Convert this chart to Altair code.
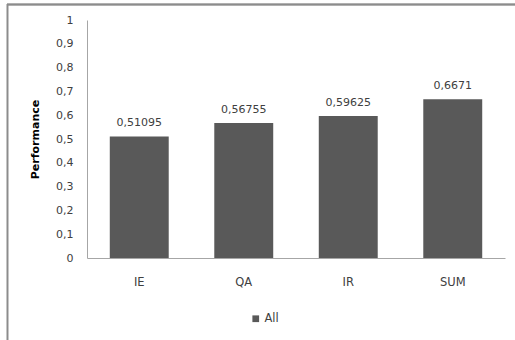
import altair as alt
import pandas as pd

# Performance per task
tasks = ["IE", "QA", "IR", "SUM"]
scores = [0.51095, 0.56755, 0.59625, 0.6671]
series = ["All"] * len(tasks)
y_ticks = [0, 0.1, 0.2, 0.3, 0.4, 0.5, 0.6, 0.7, 0.8, 0.9, 1]

df = pd.DataFrame({"task": tasks, "score": scores, "series": series})

FONT = "DejaVu Sans"
TEXT = "#404040"
BAR = "#595959"
AXIS = "#a6a6a6"

x_enc = alt.X(
    "task:N",
    sort=tasks,
    scale=alt.Scale(paddingInner=0.436, paddingOuter=0.218),
    axis=alt.Axis(
        title=None, labelAngle=0, ticks=False, domainColor=AXIS,
        labelPadding=18, labelFontSize=11.5, labelColor=TEXT, labelFont=FONT,
    ),
)
y_enc = alt.Y(
    "score:Q",
    scale=alt.Scale(domain=[0, 1], nice=False),
    axis=alt.Axis(
        title="Performance", values=y_ticks,
        labelExpr="replace(format(datum.value, '.1~f'), '.', ',')",
        labelOverlap=False,
        grid=False, ticks=False, domainColor=AXIS,
        labelPadding=14, labelFontSize=11, labelColor=TEXT, labelFont=FONT,
        titleFont=FONT, titleFontSize=11, titleFontWeight="bold", titleColor="#000000",
        titleAngle=-90, titleX=-52, titleY=119, titleAlign="center", titleBaseline="middle",
    ),
)

bars = alt.Chart(df).mark_bar(color=BAR).encode(
    x=x_enc,
    y=y_enc,
    color=alt.Color(
        "series:N",
        scale=alt.Scale(range=[BAR]),
        legend=alt.Legend(
            title=None, orient="none", legendX=163, legendY=293,
            symbolType="square", symbolSize=45, symbolStrokeWidth=0,
            labelFont=FONT, labelFontSize=11.5, labelColor=TEXT, labelOffset=3,
        ),
    ),
)

labels = alt.Chart(df).transform_calculate(
    label="replace(toString(datum.score), '.', ',')"
).mark_text(
    font=FONT, fontSize=11, color=TEXT, dy=-13, baseline="middle"
).encode(x=x_enc, y=y_enc, text="label:N")

# Outer chart frame: top and left edges
frame_top = alt.Chart(df).mark_rule(stroke="#8c8c8c", strokeWidth=1.3).encode(
    x=alt.value(-80), x2=alt.value(440), y=alt.value(-15.5)
)
frame_left = alt.Chart(df).mark_rule(stroke="#8c8c8c", strokeWidth=1.3).encode(
    x=alt.value(-79.5), y=alt.value(-16), y2=alt.value(330)
)

chart = alt.layer(frame_top, frame_left, bars, labels).properties(
    width=418,
    height=238,
    autosize=alt.AutoSizeParams(type="none"),
    padding={"left": 87, "top": 20, "right": 10, "bottom": 82},
    background="white",
).configure_view(stroke=None)

chart.save("out.html", embed_options={"renderer": "svg", "actions": False})
